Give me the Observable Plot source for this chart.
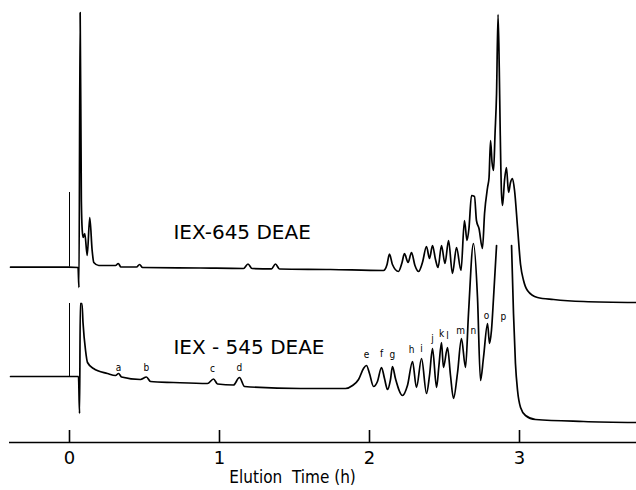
<!DOCTYPE html>
<html><head><meta charset="utf-8">
<script src="https://cdn.jsdelivr.net/npm/d3@7"></script>
<script src="https://cdn.jsdelivr.net/npm/@observablehq/plot@0.6"></script>
<style>
body{margin:0;background:#fff;}
#chart svg{display:block;background:#fff;}
</style></head><body><div id="chart"></div>
<script>
// Elution time (h) and detector response (arbitrary units above the time axis)
const time645 = [-0.393,-0.007,0.057,0.063,0.071,0.079,0.085,0.091,0.102,0.118,0.135,0.151,0.162,0.195,0.307,0.325,0.343,0.447,0.467,0.487,0.873,1.16,1.19,1.217,1.347,1.373,1.4,1.74,2.093,2.117,2.133,2.153,2.193,2.217,2.233,2.257,2.28,2.303,2.327,2.353,2.38,2.4,2.42,2.44,2.457,2.48,2.503,2.527,2.553,2.58,2.61,2.633,2.65,2.663,2.68,2.7,2.713,2.73,2.753,2.767,2.787,2.797,2.807,2.817,2.827,2.837,2.847,2.857,2.865,2.871,2.88,2.887,2.9,2.913,2.927,2.94,2.953,2.967,2.987,3.007,3.027,3.053,3.12,3.227,3.427,3.78];
const signal645 = [175.3,175.3,175,155,430,242,212,205,209,187,225,192,180,177,177,179,175.5,175.5,178,175,174.5,174,178.5,174,173.7,178.5,173.5,173,172,178,188.5,178,171,180,189,180,190,177,171,180,196,184,197,183,175,197,179,202,169,195,172,222,202,214,247,246,222,214,194,229,255,265,302,280,272,309,349,428,375,315,249,237,262,275,250,260,264,252,215,178,162,152,145,143,141,140];

const time545 = [-0.393,-0.007,0.06,0.067,0.072,0.083,0.09,0.107,0.12,0.16,0.253,0.307,0.327,0.347,0.473,0.513,0.54,0.693,0.92,0.96,0.987,1.093,1.133,1.167,1.54,1.84,1.887,1.927,1.96,1.98,2.0,2.027,2.053,2.08,2.1,2.12,2.14,2.153,2.173,2.22,2.253,2.287,2.313,2.347,2.38,2.4,2.42,2.447,2.463,2.48,2.493,2.52,2.54,2.56,2.587,2.613,2.64,2.66,2.693,2.72,2.74,2.76,2.787,2.8,2.813,2.827,2.847,2.9,2.947,2.96,2.973,2.987,3.007,3.04,3.107,3.427,3.78];
const signal545 = [66,66,66,29,139,139,120,92,80,74,69,67,69,65.5,63,65.5,61,60,59,63.5,58.5,57.5,65,56,54,54,57,63,74,77,69,56,61,75,64,53,63,76,64,47,57,81,55,84,49,67,94,55,77,100,75,95,67,44,70,104,75,129,199,145,62,85,119,99,112,145,197,null,197,129,79,52,35,27,23,21,20];

// injection markers (time, baseline level, marker top)
const injectTime = [0, 0];
const injectBase = [175.3, 66];
const injectTop = [250, 139];

// peak letters on the IEX-545 trace
const peakLetters = ["a","b","c","d","e","f","g","h","i","j","k","l","m","n","o","p"];
const peakTimes = [0.327,0.513,0.953,1.133,1.98,2.08,2.153,2.28,2.347,2.42,2.48,2.52,2.607,2.693,2.78,2.893];
const peakLabelLevel = [75,75,74,75,88,89,88,93,94,104,109,107,112,112,127,126];

// trace names
const traceNames = ["IEX-645 DEAE", "IEX - 545 DEAE"];
const traceLabelTime = [0.693, 0.693];
const traceLabelLevel = [210, 95];

const xTicks = [0, 1, 2, 3];
const xLabel = "Elution  Time (h)";

const trace645 = time645.map((t, i) => ({t, v: signal645[i]}));
const trace545 = time545.map((t, i) => ({t, v: signal545[i]}));
const injects = injectTime.map((t, i) => ({t, y1: injectBase[i], y2: injectTop[i]}));
const peaks = peakLetters.map((s, i) => ({s, t: peakTimes[i], v: peakLabelLevel[i]}));
const names = traceNames.map((s, i) => ({s, t: traceLabelTime[i], v: traceLabelLevel[i]}));

const chart = Plot.plot({
  width: 636, height: 490,
  marginLeft: 9, marginRight: 0, marginTop: 0, marginBottom: 48,
  style: {fontFamily: "DejaVu Sans", background: "#fff", color: "#000"},
  x: {domain: [-0.4, 3.78]},
  y: {domain: [0, 442], axis: null},
  marks: [
    Plot.ruleY([0], {stroke: "#000", strokeWidth: 1.6}),
    Plot.axisX(xTicks, {tickSize: -12, tickPadding: 21, fontSize: 18, label: null, strokeWidth: 1.6, tickFormat: d => String(d)}),
    Plot.text([xLabel], {x: 1.487, frameAnchor: "bottom", dy: 40, fontSize: 17, fontFamily: "DejaVu Sans Condensed", fontStretch: "condensed", ariaLabel: "xlabel"}),
    Plot.ruleX(injects, {x: "t", y1: "y1", y2: "y2", stroke: "#000", strokeWidth: 1}),
    Plot.line(trace645, {x: "t", y: "v", stroke: "#000", strokeWidth: 1.7, strokeLinejoin: "round", curve: "monotone-x"}),
    Plot.line(trace545, {x: "t", y: "v", stroke: "#000", strokeWidth: 1.7, strokeLinejoin: "round", curve: "monotone-x"}),
    Plot.text(peaks, {x: "t", y: "v", text: "s", fontSize: 10, fontFamily: "DejaVu Sans Condensed", lineAnchor: "middle"}),
    Plot.text(names, {x: "t", y: "v", text: "s", textAnchor: "start", lineAnchor: "middle", fontSize: 20, ariaLabel: "trace-label"})
  ]
});
document.getElementById("chart").appendChild(chart);
const nl = chart.querySelectorAll('g[aria-label="trace-label"] text');
if (nl.length === 2) { nl[0].style.letterSpacing = "0.8px"; nl[1].style.letterSpacing = "-0.4px"; }
const xl = chart.querySelector('g[aria-label="xlabel"] text');
if (xl) { xl.setAttribute("textLength", "96"); xl.setAttribute("lengthAdjust", "spacingAndGlyphs"); }
</script>
</body></html>
